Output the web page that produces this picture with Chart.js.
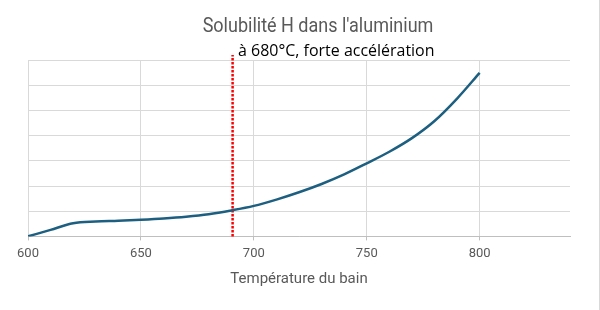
<!DOCTYPE html>
<html>
<head>
<meta charset="utf-8">
<script src="https://cdn.jsdelivr.net/npm/chart.js@4.4.0/dist/chart.umd.min.js"></script>
<style>
  html, body { margin:0; padding:0; background:#fff; }
  #wrap { width:600px; height:310px; position:relative; }
</style>
</head>
<body>
<div id="wrap"><canvas id="chart" width="600" height="310"></canvas></div>
<script>
/* Solubilité H dans l'aluminium - courbe lissée + repère rouge */

// temperatures (°C) and solubility (y axis unlabelled, 0..7 grid units)
const temperatures = [600, 610, 620, 630, 640, 650, 660, 670, 680, 690, 700, 710, 720, 730, 740, 750, 760, 770, 780, 790, 800];
const solubility   = [0, 0.26, 0.52, 0.59, 0.62, 0.66, 0.71, 0.78, 0.88, 1.03, 1.21, 1.46, 1.75, 2.08, 2.46, 2.90, 3.36, 3.90, 4.58, 5.47, 6.49];

// dotted marker line
const markerX = [690.6, 690.6];
const markerY = [0, 7.2];

const xTicks = [600, 650, 700, 750, 800];

const titleText = "Solubilité H dans l'aluminium";
const noteText = 'à 680°C, forte accélération';
const xTitleText = 'Température du bain';

// title, note and right frame line
const decor = {
  id: 'decor',
  afterDraw(chart){
    const c = chart.ctx;
    c.save();
    c.fillStyle = '#d9d9d9';
    c.fillRect(599, 0, 1, 310);
    c.textBaseline = 'alphabetic';
    c.fillStyle = '#595959';
    c.font = '20px Roboto, sans-serif';
    c.textAlign = 'center';
    c.save();
    c.translate(318, 32);
    c.scale(0.9, 1);   // narrower face in the original
    c.fillText(titleText, 0, 0);
    c.restore();
    c.fillStyle = '#000';
    c.font = '15.5px "Open Sans", sans-serif';
    c.textAlign = 'left';
    c.save();
    c.translate(238, 56);
    c.scale(1.03, 1);
    c.fillText(noteText, 0, 0);
    c.restore();
    c.restore();
  }
};

new Chart(document.getElementById('chart'), {
  type: 'line',
  data: {
    datasets: [
      {
        data: temperatures.map((t, i) => ({x: t, y: solubility[i]})),
        borderColor: '#1d5f80',
        borderWidth: 2.5,
        pointRadius: 0,
        cubicInterpolationMode: 'monotone',
        fill: false
      },
      {
        data: markerX.map((t, i) => ({x: t, y: markerY[i]})),
        borderColor: '#ff0000',
        borderWidth: 2.5,
        borderDash: [2.5, 1.5],
        pointRadius: 0,
        clip: false
      }
    ]
  },
  options: {
    responsive: false,
    animation: false,
    layout: { padding: { left: 28, right: 30, top: 60, bottom: 22 } },
    plugins: { legend: { display: false }, tooltip: { enabled: false }, title: { display: false } },
    scales: {
      x: {
        type: 'linear',
        min: 600,
        max: 840,
        afterBuildTicks: axis => { axis.ticks = xTicks.map(v => ({value: v})); },
        ticks: { color: '#595959', font: { family: 'Roboto, sans-serif', size: 13 }, padding: 6, maxRotation: 0 },
        grid: { color: '#d9d9d9', tickLength: 4, tickColor: '#bfbfbf' },
        border: { color: '#bfbfbf' },
        title: { display: true, text: xTitleText, color: '#595959', font: { family: 'Roboto, sans-serif', size: 15 }, padding: { top: 2, bottom: 0 } }
      },
      y: {
        min: 0,
        max: 7,
        ticks: { display: false, stepSize: 1 },
        grid: { color: '#d9d9d9', drawTicks: false },
        border: { display: false }
      }
    }
  },
  plugins: [decor]
});
</script>
</body>
</html>
